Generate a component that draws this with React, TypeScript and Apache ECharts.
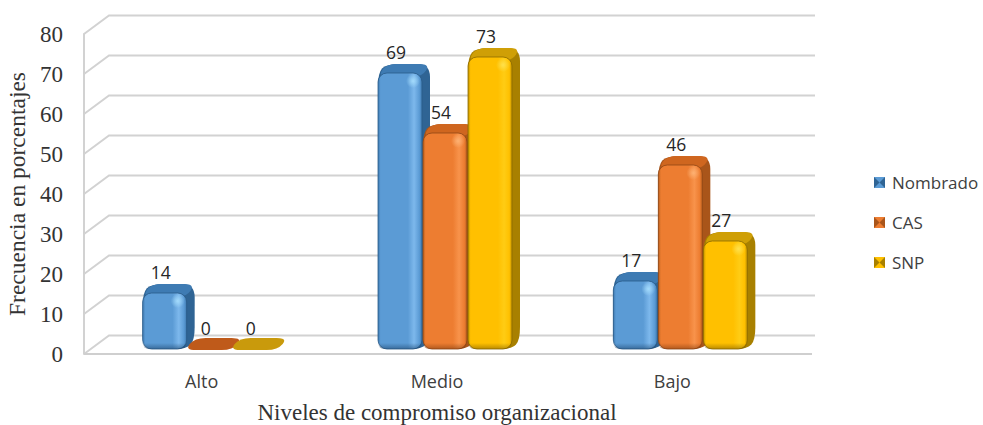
import React, { useEffect, useRef } from "react";
import * as echarts from "echarts";

const categories = ["Alto", "Medio", "Bajo"];
const nombrado = [14, 69, 17];
const cas = [0, 54, 46];
const snp = [0, 73, 27];
const yTicks = [0, 10, 20, 30, 40, 50, 60, 70, 80];
const seriesNames = ["Nombrado", "CAS", "SNP"];
const palettes = [
  { main: "#5B9BD5", light: "#7DB8EC", glow: "rgba(170,225,255,0.85)", clear: "rgba(170,225,255,0)", dark: "#3F7AB0", top: "#3E7BB3", side: "#2F6494", edge: "#2A5A88", flat: "#3E7BB3", shade: "rgba(30,70,110,0.55)", noShade: "rgba(30,70,110,0)" },
  { main: "#ED7D31", light: "#F8934B", glow: "rgba(255,185,125,0.8)", clear: "rgba(255,185,125,0)", dark: "#B9611F", top: "#CF661F", side: "#A9551A", edge: "#8F4615", flat: "#BF5A1A", shade: "rgba(130,60,15,0.55)", noShade: "rgba(130,60,15,0)" },
  { main: "#FFC000", light: "#FFCC14", glow: "rgba(255,230,90,0.8)", clear: "rgba(255,230,90,0)", dark: "#BF9000", top: "#CF9F06", side: "#A88000", edge: "#8A6A00", flat: "#C99A0C", shade: "rgba(130,95,0,0.55)", noShade: "rgba(130,95,0,0)" },
];

const G = { left: 84, top: 34, width: 706, height: 320 };
const FRONT_W = 45, DEPTH_X = 8, DEPTH_Y = 9, BASE_LIFT = 5, SHIFT = 8.5;

echarts.graphic.registerShape(
  "roundPoly",
  echarts.graphic.extendShape({
    shape: { points: [], r: 0 },
    buildPath(ctx: any, shape: any) {
      const p: number[][] = shape.points;
      const n = p.length;
      const r = shape.r;
      const toward = (a: number[], b: number[]) => {
        const dx = b[0] - a[0], dy = b[1] - a[1];
        const l = Math.hypot(dx, dy) || 1;
        const k = Math.min(r, l / 2) / l;
        return [a[0] + dx * k, a[1] + dy * k];
      };
      for (let i = 0; i < n; i++) {
        const cur = p[i], prev = p[(i + n - 1) % n], next = p[(i + 1) % n];
        const a = toward(cur, prev), b = toward(cur, next);
        if (i === 0) ctx.moveTo(a[0], a[1]);
        else ctx.lineTo(a[0], a[1]);
        ctx.quadraticCurveTo(cur[0], cur[1], b[0], b[1]);
      }
      ctx.closePath();
    },
  })
);

const grad = (stops: [number, string][], vertical = false) =>
  new echarts.graphic.LinearGradient(0, 0, vertical ? 0 : 1, vertical ? 1 : 0,
    stops.map(([offset, color]) => ({ offset, color })));

const barRender = (si: number) => (params: any, api: any) => {
  const pal = palettes[si];
  const idx = api.value(0), v = api.value(1);
  const [cx, yv] = api.coord([idx, v]);
  const [, y0] = api.coord([idx, 0]);
  const x = cx + SHIFT + (si - 1.5) * FRONT_W;
  const b = y0 - BASE_LIFT;
  const t = yv - BASE_LIFT;
  const w = FRONT_W - 1;
  const children: any[] = [];
  if (v > 0) {
    children.push({
      type: "roundPoly",
      shape: {
        r: 13,
        points: [[x, b], [x + w, b], [x + w + DEPTH_X, b - DEPTH_Y], [x + w + DEPTH_X, t - DEPTH_Y], [x + DEPTH_X, t - DEPTH_Y], [x, t]],
      },
      style: { fill: pal.side },
    });
    children.push({
      type: "roundPoly",
      shape: { r: 10, points: [[x, t + 4], [x + w, t + 4], [x + w + DEPTH_X, t - DEPTH_Y], [x + DEPTH_X, t - DEPTH_Y]] },
      style: { fill: pal.top },
    });
    children.push({
      type: "rect",
      shape: { x, y: t, width: w, height: b - t, r: 9 },
      style: {
        fill: grad([[0, pal.dark], [0.06, pal.main], [0.68, pal.main], [0.82, pal.light], [0.94, pal.main], [1, pal.dark]]),
        stroke: pal.edge,
        lineWidth: 0.8,
      },
    });
    children.push({
      type: "rect",
      shape: { x, y: b - 6, width: w, height: 6, r: [0, 0, 9, 9] },
      style: { fill: grad([[0, pal.noShade], [1, pal.shade]], true) },
    });
    children.push({
      type: "circle",
      shape: { cx: x + w - 9, cy: t + 8, r: 7 },
      style: {
        fill: new echarts.graphic.RadialGradient(0.5, 0.5, 0.5, [
          { offset: 0, color: pal.glow },
          { offset: 1, color: pal.clear },
        ]),
      },
    });
  } else {
    children.push({
      type: "roundPoly",
      shape: { r: 11, points: [[x - 3, b + 1], [x + w + 1, b + 1], [x + w + DEPTH_X + 3, b - DEPTH_Y - 2], [x + DEPTH_X - 1, b - DEPTH_Y - 2]] },
      style: { fill: pal.flat },
    });
  }
  children.push({
    type: "text",
    style: {
      text: String(v),
      x: x + 18,
      y: t - DEPTH_Y - 12,
      align: "center",
      verticalAlign: "middle",
      font: "17.5px 'Open Sans'",
      fill: "#262626",
    },
  });
  return { type: "group", children };
};

const wallRender = (params: any, api: any) => {
  const v = api.value(1);
  const [, y] = api.coord([0, v]);
  const cs = params.coordSys;
  const children: any[] = [
    {
      type: "polyline",
      shape: { points: [[cs.x, y], [cs.x + 25, y - 18.5], [815, y - 18.5]] },
      style: { stroke: "#D2D2D2", lineWidth: 2, fill: "none" },
    },
  ];
  if (v === 0) {
    children.push({
      type: "line",
      shape: { x1: cs.x, y1: y, x2: 812, y2: y },
      style: { stroke: "#CFCFCF", lineWidth: 2 },
    });
  }
  return { type: "group", children };
};

const swatchTriangles = seriesNames.flatMap((_, i) => {
  const top = 177 + 40 * i;
  const dark = palettes[i].side;
  return [
    { type: "polygon", z: 100, shape: { points: [[874, top], [879.5, top + 5.5], [874, top + 11]] }, style: { fill: dark } },
    { type: "polygon", z: 100, shape: { points: [[885, top], [879.5, top + 5.5], [885, top + 11]] }, style: { fill: dark } },
  ];
});

export default function App() {
  const ref = useRef<HTMLDivElement>(null);
  useEffect(() => {
    const chart = echarts.init(ref.current!, null, { renderer: "svg" });
    const seriesValues = [nombrado, cas, snp];
    chart.setOption({
      animation: false,
      backgroundColor: "#ffffff",
      grid: { left: G.left, top: G.top, width: G.width, height: G.height, containLabel: false, outerBoundsMode: "none" },
      graphic: swatchTriangles,
      legend: {
        orient: "vertical",
        left: 874,
        top: 174,
        padding: 0,
        itemWidth: 11,
        itemHeight: 11,
        itemGap: 23,
        selectedMode: false,
        textStyle: { fontFamily: "Open Sans", fontSize: 17, color: "#404040", padding: [0, 0, 0, 2], height: 17, lineHeight: 17 },
        data: seriesNames.map((name, i) => ({
          name,
          icon: "rect",
          itemStyle: { color: palettes[i].main },
        })),
      },
      xAxis: {
        type: "category",
        data: categories,
        name: "Niveles de compromiso organizacional",
        nameLocation: "middle",
        nameGap: 58,
        nameTextStyle: { fontFamily: "Liberation Serif", fontSize: 23, color: "#333333", verticalAlign: "middle" },
        axisLine: { show: false },
        axisTick: { show: false },
        axisLabel: { fontFamily: "Open Sans", fontSize: 18, color: "#404040", margin: 18 },
      },
      yAxis: {
        type: "value",
        min: 0,
        max: 80,
        interval: 10,
        name: "Frecuencia en porcentajes",
        nameLocation: "middle",
        nameGap: 62,
        nameTextStyle: { fontFamily: "Liberation Serif", fontSize: 23.5, color: "#333333", verticalAlign: "middle" },
        axisLine: { show: true, lineStyle: { color: "#D2D2D2", width: 2 } },
        axisTick: { show: false },
        splitLine: { show: false },
        axisLabel: { fontFamily: "Liberation Serif", fontSize: 23, color: "#333333", margin: 21 },
      },
      series: [
        {
          type: "custom",
          name: "wall",
          coordinateSystem: "cartesian2d",
          silent: true,
          clip: false,
          z: 1,
          renderItem: wallRender,
          encode: { x: 0, y: 1 },
          data: yTicks.map((t) => [0, t]),
        },
        ...seriesNames.map((name, si) => ({
          type: "custom",
          name,
          coordinateSystem: "cartesian2d",
          silent: true,
          clip: false,
          z: 2 + si,
          itemStyle: { color: palettes[si].main },
          renderItem: barRender(si),
          encode: { x: 0, y: 1 },
          data: seriesValues[si].map((v, i) => [i, v]),
        })),
      ],
    });
    return () => chart.dispose();
  }, []);
  return <div ref={ref} style={{ position: "fixed", left: 0, top: 0, width: 983, height: 425 }} />;
}
